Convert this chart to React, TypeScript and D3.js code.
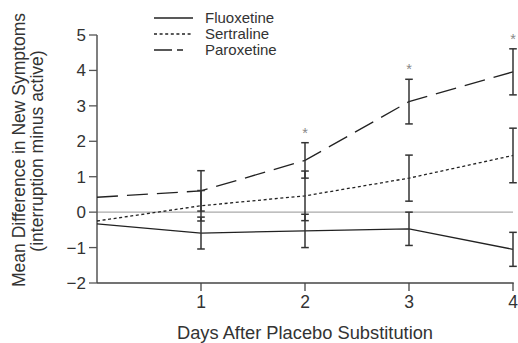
import React from "react";
import * as d3 from "d3";

const days = [0, 1, 2, 3, 4];
const xTicks = [1, 2, 3, 4];
const yTicks = [-2, -1, 0, 1, 2, 3, 4, 5];

const fluoxetine = [-0.33, -0.59, -0.53, -0.47, -1.05];
const fluoxetineErr = [0, 0.45, 0.47, 0.47, 0.48];
const sertraline = [-0.25, 0.18, 0.46, 0.96, 1.6];
const sertralineErr = [0, 0.43, 0.7, 0.65, 0.77];
const paroxetine = [0.42, 0.6, 1.46, 3.12, 3.96];
const paroxetineErr = [0, 0.57, 0.5, 0.63, 0.65];
const paroxetineSig = [false, false, true, true, true];

const seriesNames = ["Fluoxetine", "Sertraline", "Paroxetine"];

const FONT = "'Liberation Sans', Arial, Helvetica, sans-serif";

export default function App() {
  const x = d3.scaleLinear().domain([0, 4]).range([97, 513]);
  const y = d3.scaleLinear().domain([-2, 5]).range([283, 35]);

  const series = [
    { name: seriesNames[0], vals: fluoxetine, err: fluoxetineErr, dash: "none" },
    { name: seriesNames[1], vals: sertraline, err: sertralineErr, dash: "3,2.6" },
    { name: seriesNames[2], vals: paroxetine, err: paroxetineErr, dash: "21,9" },
  ];

  const line = d3
    .line<number>()
    .x((_, i) => x(days[i]))
    .y((d) => y(d));

  const legendDash = ["none", "3,2.6", "18,5"];
  const legendLen = [39, 39, 29];

  return (
    <svg
      width={518}
      height={343}
      style={{ position: "absolute", left: 0, top: 0, background: "#fff" }}
      fontFamily={FONT}
    >
      {/* zero reference line */}
      <line x1={x(0)} x2={x(4)} y1={y(0)} y2={y(0)} stroke="#aaa" strokeWidth={1.2} />

      {/* axes */}
      <line x1={x(0)} x2={x(0)} y1={y(5)} y2={y(-2)} stroke="#555" strokeWidth={1.5} />
      <line x1={x(0)} x2={x(4) + 0.75} y1={y(-2)} y2={y(-2)} stroke="#444" strokeWidth={1.5} />
      {yTicks.map((t) => (
        <g key={"yt" + t}>
          <line x1={x(0) - 8} x2={x(0)} y1={y(t)} y2={y(t)} stroke="#555" strokeWidth={1.3} />
          <text
            x={x(0) - 11}
            y={y(t)}
            dy={6}
            textAnchor="end"
            fontSize={17}
            fill="#333"
          >
            {t < 0 ? "\u2212" + Math.abs(t) : String(t)}
          </text>
        </g>
      ))}
      {xTicks.map((t) => (
        <g key={"xt" + t}>
          <line x1={x(t)} x2={x(t)} y1={y(-2)} y2={y(-2) + 8} stroke="#444" strokeWidth={1.3} />
          <text x={x(t)} y={308} textAnchor="middle" fontSize={17.5} fill="#333">
            {String(t)}
          </text>
        </g>
      ))}

      {/* series lines */}
      {series.map((s) => (
        <path
          key={s.name}
          d={line(s.vals) || ""}
          fill="none"
          stroke="#222"
          strokeWidth={1.3}
          strokeDasharray={s.dash}
        />
      ))}

      {/* error bars */}
      {series.map((s) =>
        s.vals.map((v, i) =>
          s.err[i] > 0 ? (
            <g key={s.name + "e" + i} stroke="#333" strokeWidth={1.5}>
              <line x1={x(days[i])} x2={x(days[i])} y1={y(v + s.err[i])} y2={y(v - s.err[i])} />
              <line x1={x(days[i]) - 3.8} x2={x(days[i]) + 3.8} y1={y(v + s.err[i])} y2={y(v + s.err[i])} />
              <line x1={x(days[i]) - 3.8} x2={x(days[i]) + 3.8} y1={y(v - s.err[i])} y2={y(v - s.err[i])} />
            </g>
          ) : null
        )
      )}

      {/* significance asterisks */}
      {paroxetine.map((v, i) =>
        paroxetineSig[i] ? (
          <text
            key={"sig" + i}
            x={x(days[i])}
            y={y(v + paroxetineErr[i]) - 5}
            textAnchor="middle"
            fontSize={14.5}
            fill="#888"
          >
            *
          </text>
        ) : null
      )}

      {/* legend */}
      {seriesNames.map((n, i) => (
        <g key={"lg" + n}>
          <line
            x1={154}
            x2={154 + legendLen[i]}
            y1={18 + i * 16}
            y2={18 + i * 16}
            stroke="#222"
            strokeWidth={1.3}
            strokeDasharray={legendDash[i]}
          />
          <text x={205} y={18 + i * 16 + 5} fontSize={15} fill="#333">
            {n}
          </text>
        </g>
      ))}

      {/* axis titles */}
      <text x={305} y={339} textAnchor="middle" fontSize={18.3} fill="#333">
        Days After Placebo Substitution
      </text>
      <text
        transform="translate(25,150) rotate(-90)"
        textAnchor="middle"
        fontSize={17.5}
        fill="#333"
      >
        Mean Difference in New Symptoms
      </text>
      <text
        transform="translate(43,151) rotate(-90)"
        textAnchor="middle"
        fontSize={17.5}
        fill="#333"
      >
        (interruption minus active)
      </text>
    </svg>
  );
}
